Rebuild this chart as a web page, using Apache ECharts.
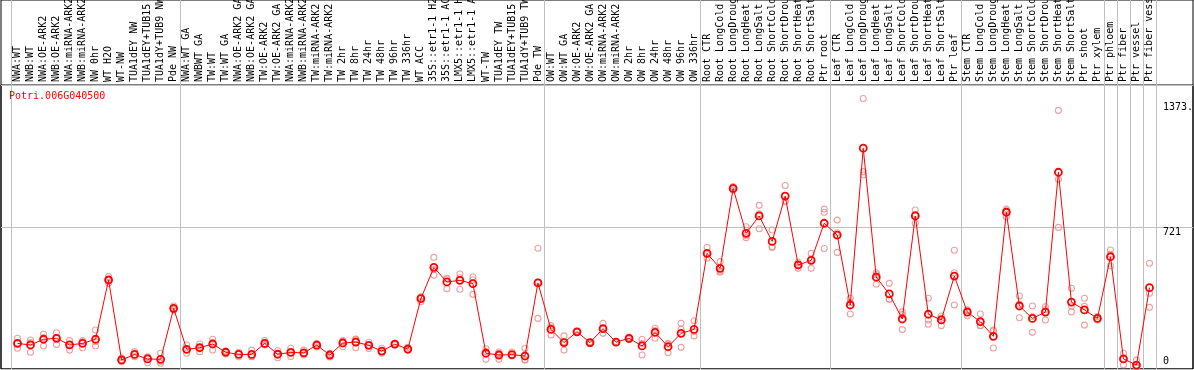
<!DOCTYPE html>
<html>
<head>
<meta charset="utf-8">
<script src="https://cdn.jsdelivr.net/npm/echarts@6/dist/echarts.min.js"></script>
<style>
  html, body { margin: 0; padding: 0; background: #fff; }
  #chart { width: 1194px; height: 370px; }
</style>
</head>
<body>
<div id="chart"></div>
<script>
const geneId = 'Potri.006G040500';

const categories = [
  'NWA:WT', 'NWB:WT', 'NWA:OE-ARK2', 'NWB:OE-ARK2', 'NWA:miRNA-ARK2', 'NWB:miRNA-ARK2', 'NW 0hr', 'WT H2O', 'WT-NW',
  'TUA1dEY NW', 'TUA1dEY+TUB15 NW', 'TUA1dY+TUB9 NW', 'Pde NW',
  'NWA:WT GA', 'NWBWT GA', 'TW:WT', 'TW:WT GA', 'NWA:OE-ARK2 GA', 'NWB:OE-ARK2 GA', 'TW:OE-ARK2', 'TW:OE-ARK2 GA',
  'NWA:miRNA-ARK2 GA', 'NWB:miRNA-ARK2 GA', 'TW:miRNA-ARK2', 'TW:miRNA-ARK2 GA', 'TW 2hr', 'TW 8hr', 'TW 24hr', 'TW 48hr',
  'TW 96hr', 'TW 336hr', 'WT ACC', '35S::etr1-1 H2O', '35S::etr1-1 ACC', 'LMX5::etr1-1 H2O', 'LMX5::etr1-1 ACC', 'WT-TW',
  'TUA1dEY TW', 'TUA1dEY+TUB15 TW', 'TUA1dY+TUB9 TW', 'Pde TW',
  'OW:WT', 'OW:WT GA', 'OW:OE-ARK2', 'OW:OE-ARK2 GA', 'OW:miRNA-ARK2', 'OW:miRNA-ARK2 GA', 'OW 2hr', 'OW 8hr', 'OW 24hr',
  'OW 48hr', 'OW 96hr', 'OW 336hr',
  'Root CTR', 'Root LongCold', 'Root LongDrought', 'Root LongHeat', 'Root LongSalt', 'Root ShortCold', 'Root ShortDrought',
  'Root ShortHeat', 'Root ShortSalt', 'Ptr root',
  'Leaf CTR', 'Leaf LongCold', 'Leaf LongDrought', 'Leaf LongHeat', 'Leaf LongSalt', 'Leaf ShortCold', 'Leaf ShortDrought',
  'Leaf ShortHeat', 'Leaf ShortSalt', 'Ptr leaf',
  'Stem CTR', 'Stem LongCold', 'Stem LongDrought', 'Stem LongHeat', 'Stem LongSalt', 'Stem ShortCold', 'Stem ShortDrought',
  'Stem ShortHeat', 'Stem ShortSalt', 'Ptr shoot', 'Ptr xylem',
  'Ptr phloem', 'Ptr fiber', 'Ptr vessel', 'Ptr fiber vessel'
];

// first category of each group (a vertical line is drawn on its left edge)
const groupStarts = [0, 13, 41, 53, 63, 73, 84, 85, 86, 87];

const meanValues = [
  130, 122, 151, 156, 122, 130, 151, 452, 46, 74, 51, 49, 308,
  100, 108, 127, 85, 74, 74, 130, 75, 84, 82, 121, 71, 132, 137, 120, 91, 126, 101, 357, 516, 442, 450, 433, 80, 71, 73, 66, 437,
  201, 134, 189, 134, 205, 136, 156, 117, 186, 113, 181, 201,
  587, 511, 917, 689, 777, 648, 878, 528, 552, 740,
  680, 325, 1121, 466, 381, 254, 777, 278, 249, 472,
  289, 240, 166, 796, 320, 257, 289, 999, 340, 300, 257, 570, 51, 20, 413
];

const rep1 = [
  156, 147, 178, 184, 144, 144, 198, 469, 57, 88, 62, 80, 320,
  122, 127, 151, 91, 85, 96, 144, 93, 105, 96, 130, 80, 144, 151, 136, 105, 130, 110, 367, 567, 457, 482, 467, 103, 86, 86, 105, 613,
  220, 168, 192, 138, 232, 139, 162, 151, 207, 130, 232, 245,
  618, 545, 926, 722, 831, 706, 932, 542, 587, 812,
  756, 359, 1373.5, 489, 435, 290, 807, 359, 269, 603,
  300, 279, 198, 812, 371, 320, 316, 1313, 410, 359, 266, 604, 80, 45, 537
];

const rep2 = [
  105, 85, 117, 125, 96, 108, 117, 435, 37, 62, 32, 29, 300,
  80, 88, 96, 76, 62, 62, 122, 57, 63, 71, 112, 61, 113, 108, 104, 80, 122, 96, 342, 476, 408, 405, 379, 49, 49, 66, 45, 257,
  173, 96, 187, 130, 181, 133, 150, 71, 156, 83, 110, 168,
  562, 491, 909, 667, 712, 621, 849, 511, 511, 796,
  592, 279, 1002, 430, 354, 276, 740, 249, 220, 489,
  271, 220, 107, 773, 260, 186, 249, 963, 320, 223, 249, 523, 20, 10, 384
];

const rep3 = [
  130, 134, 158, 159, 126, 138, 138, 452, 44, 72, 59, 38, 304,
  98, 109, 134, 88, 75, 64, 124, 75, 84, 79, 121, 72, 139, 152, 120, 88, 126, 97, 362, 505, 461, 463, 453, 88, 78, 67, 48, 441,
  210, 138, 189, 134, 202, 136, 156, 129, 195, 126, 201, 190,
  581, 497, 916, 678, 788, 617, 853, 531, 558, 612,
  692, 337, 985, 479, 354, 200, 784, 227, 258, 325,
  296, 221, 193, 803, 329, 265, 302, 719, 290, 318, 256, 583, 53, 5, 313
];

const yMax = 1442;
const yTickValues = [0, 721, 1373.5];
const yTickLabels = ['0', '721', '1373.'];

const monoFont = 'DejaVu Sans Mono';
const gridGray = '#c0c0c0';

const chart = echarts.init(document.getElementById('chart'));

const repStyle = {
  type: 'scatter',
  xAxisIndex: 2,
  yAxisIndex: 2,
  symbol: 'circle',
  symbolSize: 6,
  itemStyle: { color: 'rgba(0,0,0,0)', borderColor: '#e98a8a', borderWidth: 1.1 },
  silent: true
};

const option = {
  animation: false,
  title: {
    text: geneId,
    left: 9,
    top: 91,
    padding: 0,
    textStyle: { color: '#ff0000', fontFamily: monoFont, fontSize: 10, fontWeight: 'normal' }
  },
  grid: [
    // outer frame
    { left: 1, right: 1, top: 0, bottom: 1, show: true, borderColor: '#000', borderWidth: 1, outerBoundsMode: 'none' },
    // plot frame + value gridline
    { left: 1, right: 1, top: 85, bottom: 1, show: true, borderColor: '#000', borderWidth: 1, outerBoundsMode: 'none' },
    // data area
    { left: 11, width: 1145, top: 85, bottom: 1, outerBoundsMode: 'none' },
    // group separators, full height
    { left: 11, width: 1145, top: 0, bottom: 1, outerBoundsMode: 'none' }
  ],
  xAxis: [
    { gridIndex: 0, type: 'value', show: false },
    { gridIndex: 1, type: 'value', show: false },
    {
      gridIndex: 2,
      type: 'category',
      data: categories,
      position: 'top',
      axisLine: { show: false },
      axisTick: { show: false },
      splitLine: { show: false },
      axisLabel: { interval: 0, rotate: 90, margin: 3, fontFamily: monoFont, fontSize: 10, color: '#000' }
    },
    {
      gridIndex: 3,
      type: 'category',
      data: categories,
      axisLine: { show: false },
      axisTick: { show: false },
      axisLabel: { show: false },
      splitLine: {
        show: true,
        interval: (idx) => groupStarts.indexOf(idx) >= 0,
        lineStyle: { color: gridGray, width: 1 }
      }
    }
  ],
  yAxis: [
    { gridIndex: 0, type: 'value', show: false },
    {
      gridIndex: 1,
      type: 'value',
      min: 0,
      max: yMax,
      interval: 721,
      position: 'right',
      axisLine: { show: false },
      axisTick: { show: false },
      splitLine: { show: true, lineStyle: { color: gridGray, width: 1 } },
      axisLabel: {
        inside: true,
        align: 'left',
        margin: 30,
        customValues: yTickValues,
        fontFamily: monoFont,
        fontSize: 10,
        color: '#000',
        formatter: (v) => {
          let i = 0;
          yTickValues.forEach((t, k) => { if (Math.abs(t - v) < Math.abs(yTickValues[i] - v)) i = k; });
          const key = ['b', 'm', 't'][i];
          return '{' + key + '|' + yTickLabels[i] + '}';
        },
        rich: {
          t: { fontFamily: monoFont, fontSize: 10, color: '#000', padding: [18, 0, 0, 0] },
          m: { fontFamily: monoFont, fontSize: 10, color: '#000', padding: [10, 0, 0, 0] },
          b: { fontFamily: monoFont, fontSize: 10, color: '#000', padding: [0, 0, 15, 0] }
        }
      }
    },
    { gridIndex: 2, type: 'value', min: 0, max: yMax, show: false },
    { gridIndex: 3, type: 'value', show: false }
  ],
  series: [
    Object.assign({ name: 'rep1', data: rep1 }, repStyle),
    Object.assign({ name: 'rep2', data: rep2 }, repStyle),
    Object.assign({ name: 'rep3', data: rep3 }, repStyle),
    {
      name: 'mean',
      type: 'line',
      xAxisIndex: 2,
      yAxisIndex: 2,
      data: meanValues,
      symbol: 'circle',
      symbolSize: 7,
      showAllSymbol: true,
      lineStyle: { color: '#ff0000', width: 1 },
      itemStyle: { color: 'rgba(0,0,0,0)', borderColor: '#ff0000', borderWidth: 1.8 },
      z: 3
    }
  ]
};

chart.setOption(option);
</script>
</body>
</html>
